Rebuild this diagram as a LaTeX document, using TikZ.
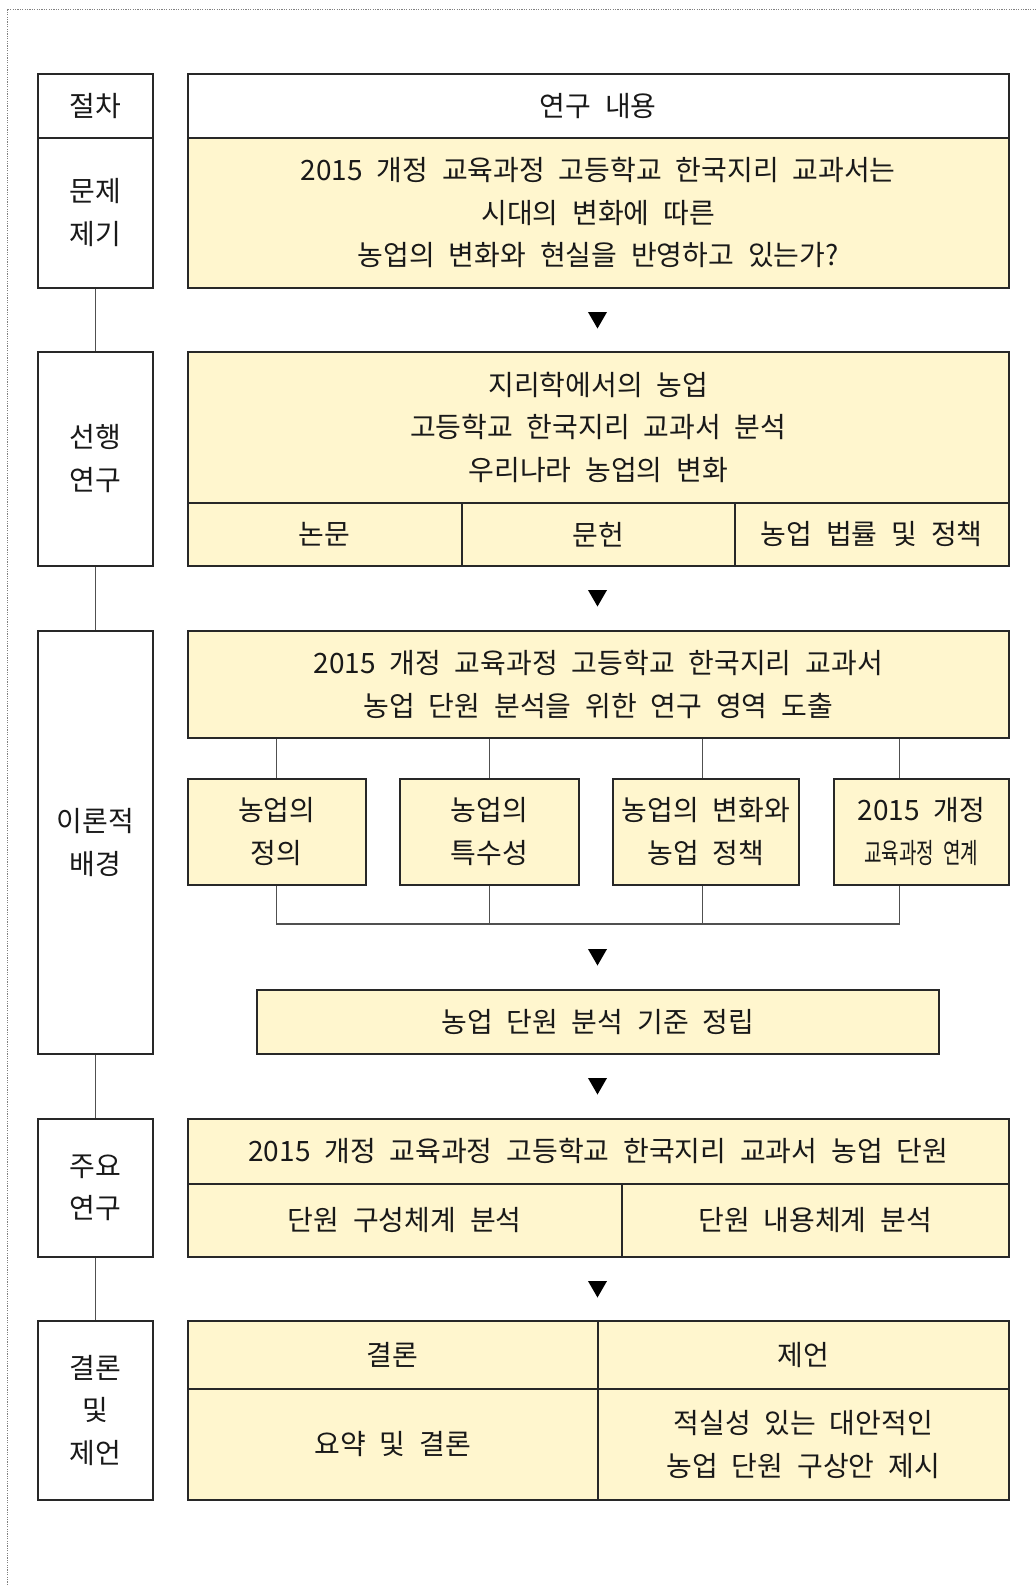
\documentclass[tikz,border=0pt]{standalone}
\usepackage{fontspec}
\usepackage{graphicx}
\setmainfont{Noto Sans CJK KR}[WordSpace=2.2]
\usepackage{tikz}
\usetikzlibrary{positioning}
\usetikzlibrary{shapes.geometric}
\definecolor{cream}{RGB}{255,246,206}
\definecolor{boxline}{RGB}{40,40,40}
\definecolor{linkline}{RGB}{80,80,80}
\tikzset{cell/.style = {draw=boxline, line width = 0.75pt, fill = cream, inner sep = 0,
                        anchor = north west, align = center, text = black!90,
                        font = \fontsize{14pt}{21.3pt}\selectfont}}
\tikzset{stage/.style = {cell, fill = white, minimum width = 57.5pt}}
\tikzset{wide/.style = {cell, minimum width = 410.5pt}}
\tikzset{link/.style = {draw=linkline, line width = 0.6pt}}
\tikzset{tri/.style = {fill, regular polygon, regular polygon sides = 3,
                       shape border rotate = 180, inner sep = 0, minimum size = 11pt}}

\begin{document}
\begin{tikzpicture}[x = 0.5pt, y = -0.5pt]
    \useasboundingbox (0, 0) rectangle (1035, 1585);
    \draw [gray, line width = 0.5pt, dash pattern = on 0.6pt off 0.6pt] (7, 1585) -- (7, 9) -- (1035, 9);

    \node [stage, minimum height = 32pt] (s0) at (37, 73) {절차};
    \node [stage, minimum height = 75pt] (s1) at (37, 137) {문제\\제기};
    \node [stage, minimum height = 107pt] (s2) at (37, 351) {선행\\연구};
    \node [stage, minimum height = 211.5pt] (s3) at (37, 630) {이론적\\배경};
    \node [stage, minimum height = 69pt] (s4) at (37, 1118) {주요\\연구};
    \node [stage, minimum height = 89.5pt] (s5) at (37, 1320) {결론\\및\\제언};

    \draw [link] (s1.south) -- (s2.north);
    \draw [link] (s2.south) -- (s3.north);
    \draw [link] (s3.south) -- (s4.north);
    \draw [link] (s4.south) -- (s5.north);

    \node [wide, fill = white, minimum height = 32pt] (head) at (187, 73) {연구 내용};
    \node [wide, minimum height = 75pt] (q) at (187, 137)
        {2015 개정 교육과정 고등학교 한국지리 교과서는\\시대의 변화에 따른\\농업의 변화와 현실을 반영하고 있는가?};

    \node [tri] (a1) at (597.5, 317.5) {};

    \node [wide, minimum height = 75.5pt] (p) at (187, 351)
        {지리학에서의 농업\\고등학교 한국지리 교과서 분석\\우리나라 농업의 변화};
    \node [cell, minimum width = 137pt, minimum height = 31.5pt] (p1) at (187, 502) {논문};
    \node [cell, minimum width = 136.5pt, minimum height = 31.5pt] (p2) at (461, 502) {문헌};
    \node [cell, minimum width = 137pt, minimum height = 31.5pt] (p3) at (734, 502) {농업 법률 및 정책};

    \node [tri] (a2) at (597.5, 595.5) {};

    \node [wide, minimum height = 53.5pt] (t) at (187, 630)
        {2015 개정 교육과정 고등학교 한국지리 교과서\\농업 단원 분석을 위한 연구 영역 도출};
    \node [cell, minimum width = 89pt, minimum height = 53pt] (b1) at (187, 778) {농업의\\정의};
    \node [cell, minimum width = 89.5pt, minimum height = 53pt] (b2) at (399, 778) {농업의\\특수성};
    \node [cell, minimum width = 93pt, minimum height = 53pt] (b3) at (612, 778) {농업의 변화와\\농업 정책};
    \node [cell, minimum width = 87.5pt, minimum height = 53pt] (b4) at (833, 778)
        {2015 개정\\\scalebox{0.68}[1]{교육과정 연계}};

    \draw [link] (b1.north) -- (b1.north |- t.south);
    \draw [link] (b2.north) -- (b2.north |- t.south);
    \draw [link] ([xshift = -1.5pt]b3.north) -- ([xshift = -1.5pt]b3.north |- t.south);
    \draw [link] ([xshift = -10.75pt]b4.north) -- ([xshift = -10.75pt]b4.north |- t.south);

    \coordinate (bus) at (0, 924);
    \draw [link] (b1.south) -- (b1.south |- bus) -- ([xshift = -10.75pt]b4.south |- bus)
        -- ([xshift = -10.75pt]b4.south);
    \draw [link] (b2.south) -- (b2.south |- bus);
    \draw [link] ([xshift = -1.5pt]b3.south) -- ([xshift = -1.5pt]b3.south |- bus);

    \node [tri] (a3) at (597.5, 954.5) {};

    \node [cell, minimum width = 341pt, minimum height = 32pt] (std) at (256, 989) {농업 단원 분석 기준 정립};

    \node [tri] (a4) at (597.5, 1083.5) {};

    \node [wide, minimum height = 32.5pt] (m) at (187, 1118)
        {2015 개정 교육과정 고등학교 한국지리 교과서 농업 단원};
    \node [cell, minimum width = 217pt, minimum height = 36.5pt] (m1) at (187, 1183) {단원 구성체계 분석};
    \node [cell, minimum width = 193.5pt, minimum height = 36.5pt] (m2) at (621, 1183) {단원 내용체계 분석};

    \node [tri] (a5) at (597.5, 1286.5) {};

    \node [cell, minimum width = 205pt, minimum height = 34pt] (r1) at (187, 1320) {결론};
    \node [cell, minimum width = 205.5pt, minimum height = 34pt] (r2) at (597, 1320) {제언};
    \node [cell, minimum width = 205pt, minimum height = 55.5pt] (r3) at (187, 1388) {요약 및 결론};
    \node [cell, minimum width = 205.5pt, minimum height = 55.5pt] (r4) at (597, 1388)
        {적실성 있는 대안적인\\농업 단원 구상안 제시};
\end{tikzpicture}
\end{document}
